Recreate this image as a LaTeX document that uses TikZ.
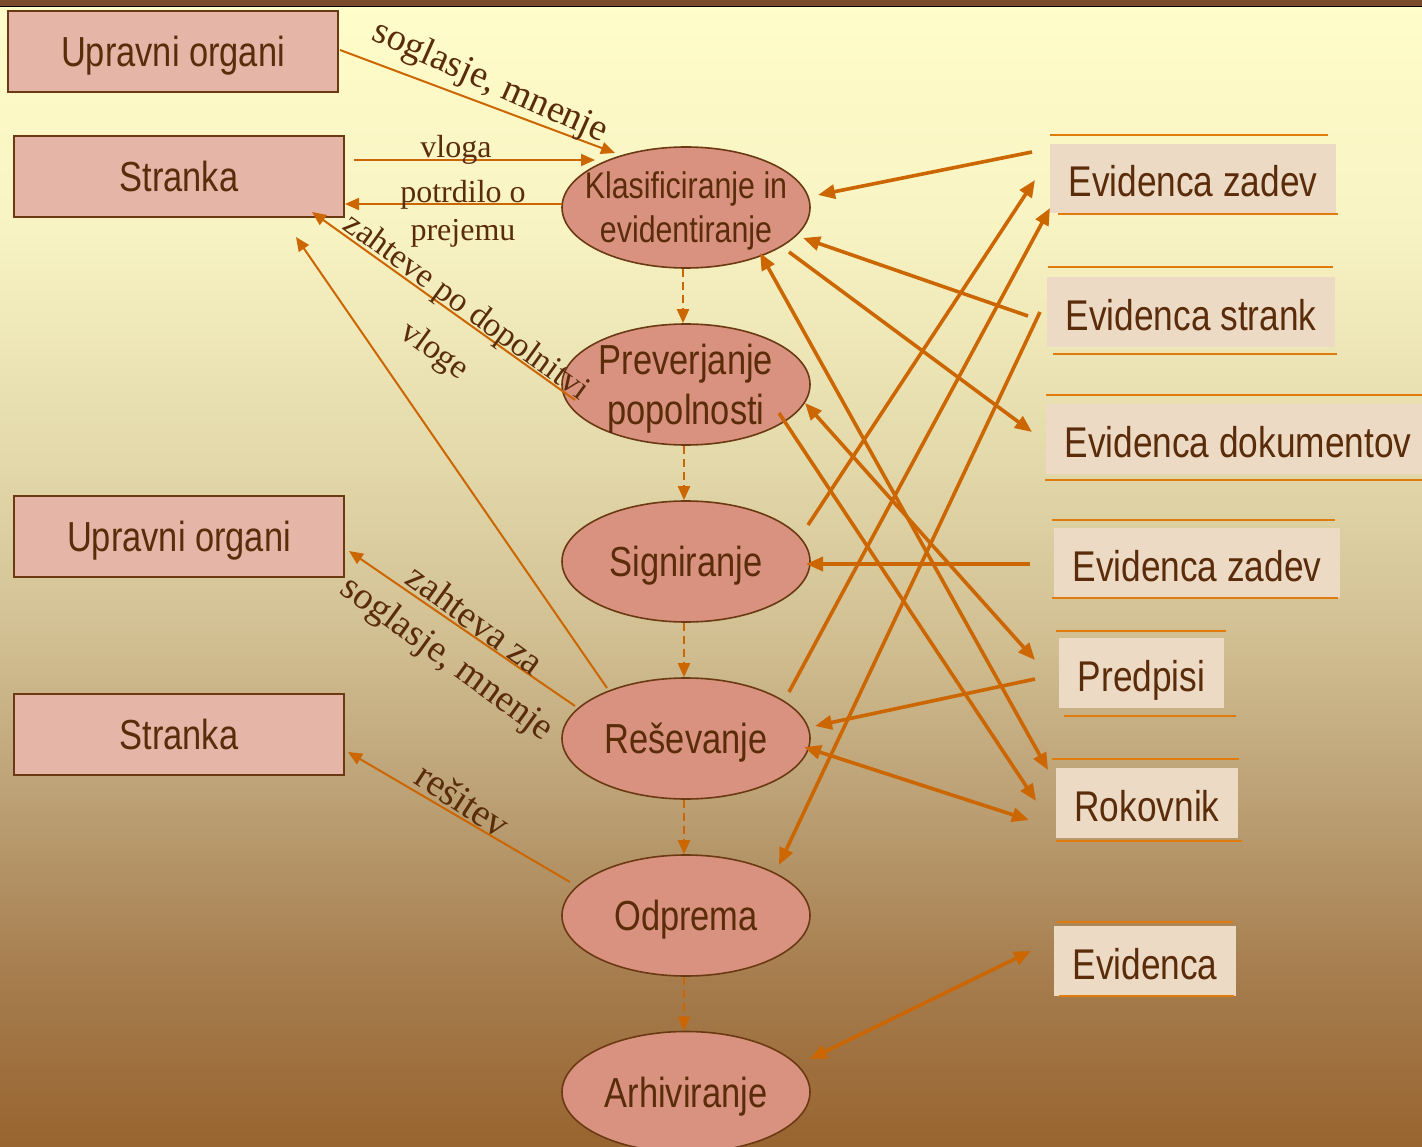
\documentclass[tikz,border=0pt]{standalone}
\usepackage{fontspec}
\setmainfont{Liberation Serif}
\newfontfamily\narrowsans{Liberation Sans}[FakeStretch=0.82]
\usetikzlibrary{shapes.geometric,arrows.meta}

\definecolor{ink}{HTML}{5A2C0A}
\definecolor{boxline}{HTML}{6B3A12}
\definecolor{partyfill}{HTML}{E5B6A8}
\definecolor{taskfill}{HTML}{D9927F}
\definecolor{regfill}{HTML}{EDDAC5}
\definecolor{ruleorange}{HTML}{E07B0E}
\definecolor{flowc}{HTML}{CC6600}
\definecolor{bgA}{HTML}{FFFDC9}
\definecolor{bgB}{HTML}{F8F3C3}
\definecolor{bgC}{HTML}{E3D9AA}
\definecolor{bgD}{HTML}{D2C093}
\definecolor{bgE}{HTML}{BBA074}
\definecolor{bgF}{HTML}{A67D4E}
\definecolor{bgG}{HTML}{98642F}
\definecolor{woodband}{HTML}{7A4B2E}

% page background: light yellow fading into brown
\pgfdeclareverticalshading{pagebg}{100bp}{%
  color(0bp)=(bgG); color(25bp)=(bgG); color(32.5bp)=(bgF); color(40bp)=(bgE);
  color(47.5bp)=(bgD); color(55bp)=(bgC); color(65bp)=(bgB); color(75bp)=(bgA);
  color(100bp)=(bgA)}

\tikzset{
  party/.style={draw=boxline, line width=2pt, fill=partyfill, minimum width=330pt,
    minimum height=81pt, inner sep=0pt, text=ink, text height=30pt, text depth=0pt,
    font=\narrowsans\fontsize{42}{50}\selectfont},
  task/.style={ellipse, draw=boxline, line width=1.6pt, fill=taskfill,
    minimum width=248pt, minimum height=121pt, inner sep=-30pt, text=ink, align=center,
    text depth=0pt,
    font=\narrowsans\fontsize{42}{50}\selectfont},
  oneline/.style={text height=30pt},
  register/.style={fill=regfill, inner sep=0pt, text=ink, text height=37pt, text depth=0pt,
    font=\narrowsans\fontsize{43}{50}\selectfont},
  rulebar/.style={draw=ruleorange, line width=2.2pt},
  thinarrow/.style={draw=flowc, line width=2pt, -{Triangle[length=14pt,width=12pt]}},
  thickarrow/.style={draw=flowc, line width=3.6pt, -{Triangle[length=17pt,width=14pt]}},
  thickboth/.style={draw=flowc, line width=3.6pt,
    {Triangle[length=17pt,width=14pt]}-{Triangle[length=17pt,width=14pt]}},
  seqarrow/.style={draw=flowc, line width=2pt, dash pattern=on 8pt off 5pt,
    -{Triangle[length=14pt,width=12pt]}},
  lbl/.style={text=ink, inner sep=0pt, align=center},
}

\begin{document}
\begin{tikzpicture}[x=1pt,y=-1pt]
\useasboundingbox (0,0) rectangle (1422,1147);
\clip (0,0) rectangle (1422,1147);
\fill[shading=pagebg] (0,0) rectangle (1422,1147);
\fill[woodband] (0,0) rectangle (1422,6);
\draw[black, line width=1.5pt] (0,6.5) -- (1422,6.5);

% external parties
\node[party] (uo1) at (173,51.5) {Upravni organi};
\node[party] (st1) at (179,176.5) {Stranka};
\node[party] (uo2) at (179,536.5) {Upravni organi};
\node[party] (st2) at (179,734.5) {Stranka};

% process steps
\node[task, font=\narrowsans\fontsize{37}{44}\selectfont] (kl) at (686,207.5) {Klasificiranje in\\evidentiranje};
\node[task] (pp) at (686,384.5) {Preverjanje\\popolnosti};
\node[task, oneline] (sg) at (686,561.5) {Signiranje};
\node[task, oneline] (rs) at (686,738.5) {Reševanje};
\node[task, oneline] (od) at (686,915.5) {Odprema};
\node[task, oneline] (ar) at (686,1092) {Arhiviranje};

% registers
\node[register, minimum width=286pt, minimum height=69pt] (ez1) at (1193,178.5) {Evidenca zadev};
\node[register, minimum width=288pt, minimum height=70pt] (es) at (1191,312) {Evidenca strank};
\node[register, minimum width=384pt, minimum height=70pt] (ed) at (1238,439) {Evidenca dokumentov};
\node[register, minimum width=286pt, minimum height=70pt] (ez2) at (1197,563) {Evidenca zadev};
\node[register, minimum width=165pt, minimum height=70pt] (pr) at (1141.5,673) {Predpisi};
\node[register, minimum width=182pt, minimum height=70pt] (rk) at (1147,803) {Rokovnik};
\node[register, minimum width=182pt, minimum height=70pt] (ev) at (1145,961) {Evidenca};

% register rules
\draw[rulebar] (1050,135) -- (1328,135);  \draw[rulebar] (1058,214) -- (1338,214);
\draw[rulebar] (1048,267) -- (1333,267);  \draw[rulebar] (1053,354) -- (1337,354);
\draw[rulebar] (1046,395) -- (1422,395);  \draw[rulebar] (1045,480) -- (1422,480);
\draw[rulebar] (1052,520) -- (1335,520);  \draw[rulebar] (1052,598) -- (1338,598);
\draw[rulebar] (1056,631) -- (1226,631);  \draw[rulebar] (1064,716) -- (1236,716);
\draw[rulebar] (1052,759) -- (1239,759);  \draw[rulebar] (1056,841) -- (1242,841);
\draw[rulebar] (1057,922) -- (1233,922);  \draw[rulebar] (1059,996) -- (1234,996);

% sequence of steps
\draw[seqarrow] ([xshift=-3pt]kl.south) -- ([xshift=-3pt]pp.north);
\draw[seqarrow] ([xshift=-2pt]pp.south) -- ([xshift=-2pt]sg.north);
\draw[seqarrow] ([xshift=-2pt]sg.south) -- ([xshift=-2pt]rs.north);
\draw[seqarrow] ([xshift=-2pt]rs.south) -- ([xshift=-2pt]od.north);
\draw[seqarrow] ([xshift=-2pt]od.south) -- ([xshift=-2pt]ar.north);

% exchanges with parties
\draw[thinarrow] ([shift={(167,-1.5)}]uo1.center) -- ([shift={(-71,-54.5)}]kl.center);
\draw[thinarrow] ([shift={(175,-16.5)}]st1.center) -- ([shift={(-91,-47.5)}]kl.center);
\draw[thinarrow] ([shift={(-124,-3.5)}]kl.center) -- ([shift={(166,27.5)}]st1.center);
\draw[thinarrow] ([shift={(-111,15.5)}]pp.center) -- ([shift={(133,35.5)}]st1.center);
\draw[thinarrow] ([shift={(-79,-50.5)}]rs.center) -- ([shift={(117,60.5)}]st1.center);
\draw[thinarrow] ([shift={(-111,-32.5)}]rs.center) -- ([shift={(170,14.5)}]uo2.center);
\draw[thinarrow] ([shift={(-116,-33.5)}]od.center) -- ([shift={(169,17.5)}]st2.center);

\node[lbl, rotate=-24, font=\fontsize{38}{46}\selectfont] (l1) at (490,83) {soglasje, mnenje};
\node[lbl, font=\fontsize{32}{39}\selectfont] (l2) at (456,150) {vloga};
\node[lbl, font=\fontsize{32}{38}\selectfont] (l3) at (463,214) {potrdilo o\\prejemu};
\node[lbl, rotate=-36, font=\fontsize{34}{54}\selectfont] (l4) at (450,330) {zahteve po dopolnitvi\\vloge};
\node[lbl, rotate=-36, font=\fontsize{38}{46}\selectfont] (l5) at (460,641) {zahteva za\\soglasje, mnenje};
\node[lbl, rotate=-33, font=\fontsize{39}{46}\selectfont] (l6) at (463,800) {rešitev};

% exchanges with registers
\draw[thickarrow] ([shift={(-161,-26.5)}]ez1.center) -- ([shift={(132,-12.5)}]kl.center);
\draw[thickarrow] ([shift={(122,-36.5)}]sg.center) -- ([shift={(-158,1.5)}]ez1.center);
\draw[thickarrow] ([shift={(103,-46.5)}]rs.center) -- ([shift={(-143,29.5)}]ez1.center);
\draw[thickarrow] ([shift={(-163,4)}]es.center) -- ([shift={(117,30.5)}]kl.center);
\draw[thickarrow] ([shift={(103,44.5)}]kl.center) -- ([shift={(-206,-7)}]ed.center);
\draw[thickarrow] ([shift={(-151,0)}]es.center) -- ([shift={(93,-50.5)}]od.center);
\draw[thickboth] ([shift={(74,45.5)}]kl.center) -- ([shift={(-99,-33)}]rk.center);
\draw[thickboth] ([shift={(119,18.5)}]pp.center) -- ([shift={(-106.5,-13)}]pr.center);
\draw[thickarrow] ([shift={(93,28.5)}]pp.center) -- ([shift={(-111,-2)}]rk.center);
\draw[thickarrow] ([shift={(-167,1)}]ez2.center) -- ([shift={(120,2.5)}]sg.center);
\draw[thickarrow] ([shift={(-106.5,6)}]pr.center) -- ([shift={(129,-12.5)}]rs.center);
\draw[thickboth] ([shift={(118,8.5)}]rs.center) -- ([shift={(-118,17)}]rk.center);
\draw[thickboth] ([shift={(124,-33)}]ar.center) -- ([shift={(-114,-10)}]ev.center);
\end{tikzpicture}
\end{document}
